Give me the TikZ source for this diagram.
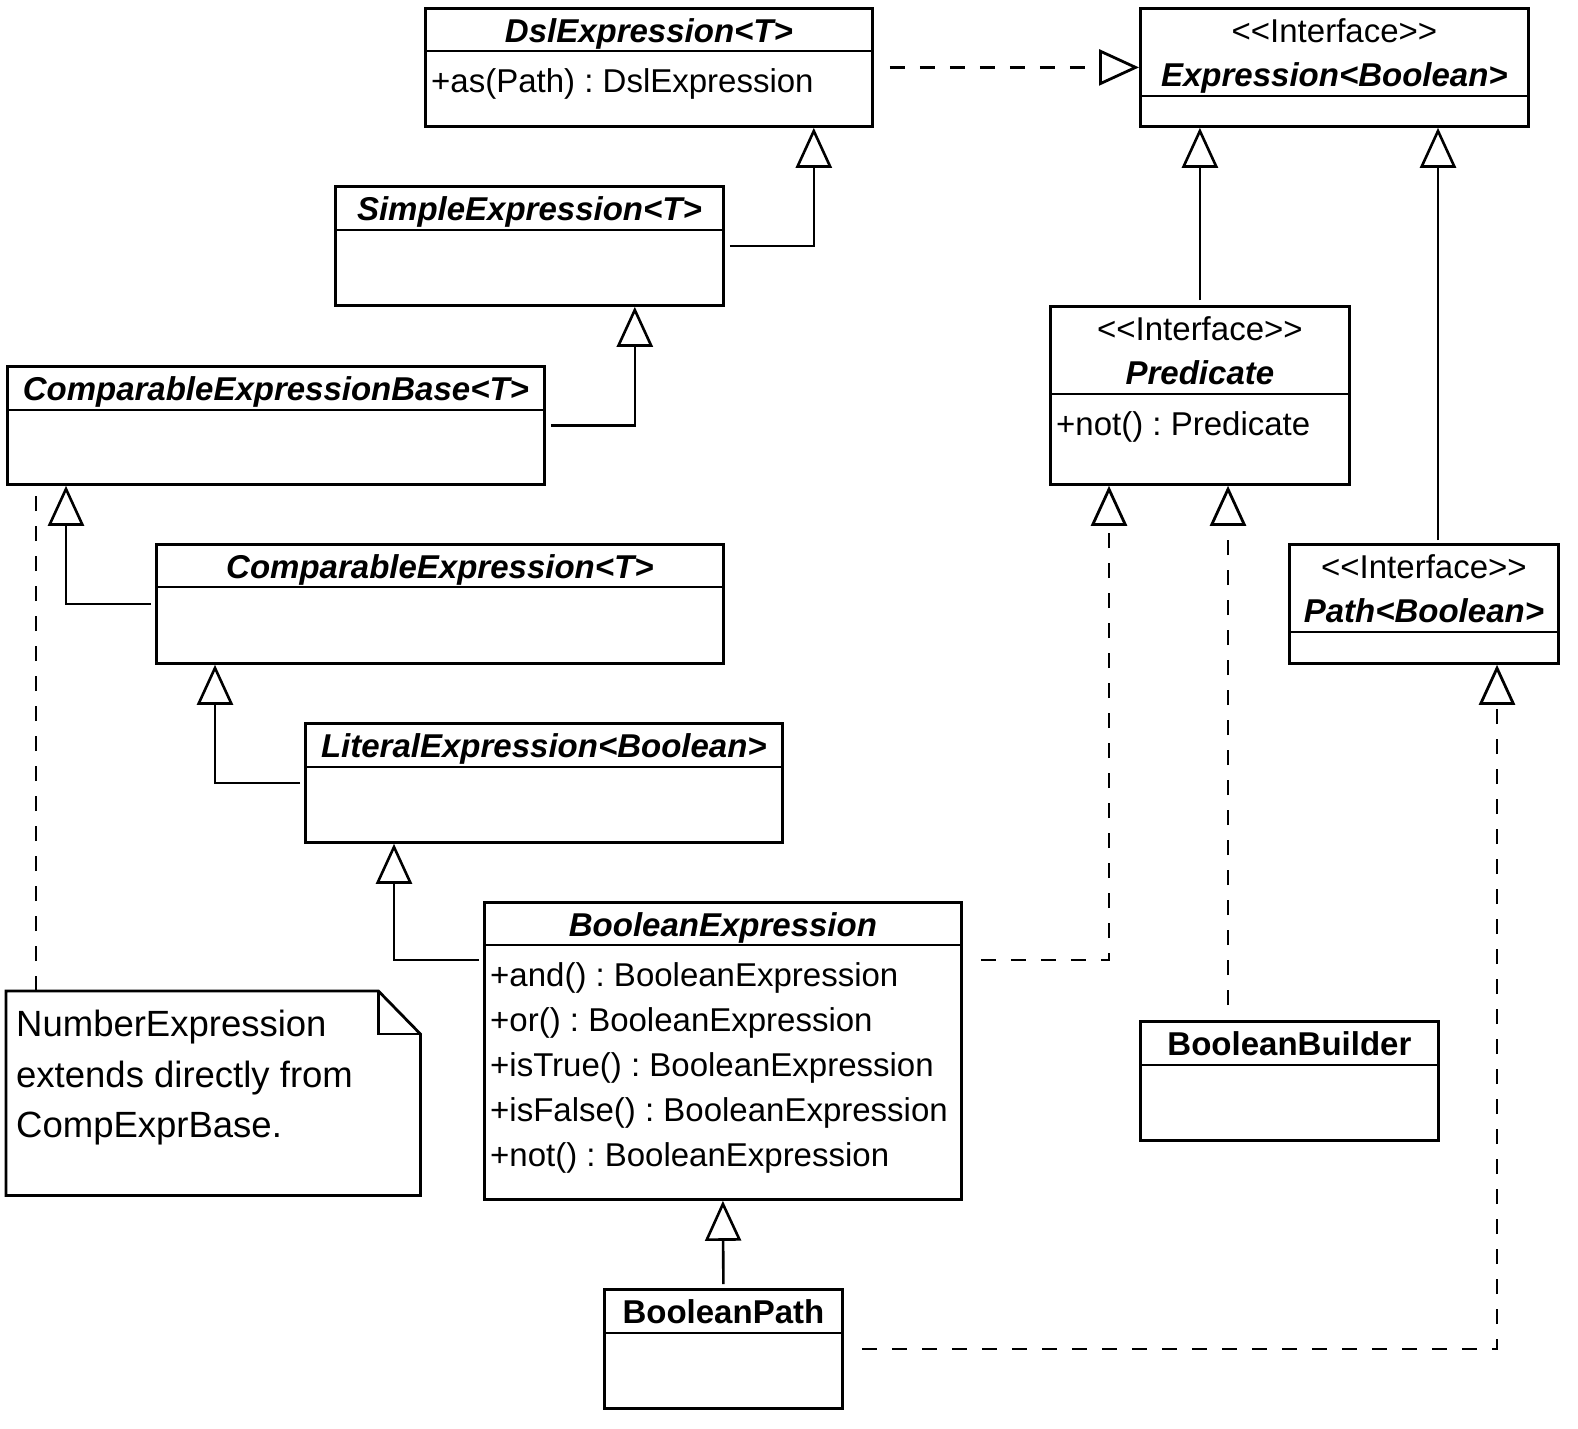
\documentclass[tikz,border=0pt]{standalone}
\usepackage{fontspec}
\setmainfont{Liberation Sans}
\usetikzlibrary{arrows.meta}
\frenchspacing
\newcommand{\umlfont}{\fontsize{33}{45}\selectfont}
\newcommand{\iface}{<\kern0pt<Interface>\kern0pt>}
\tikzset{
classbox/.style={draw, line width=2.8pt, rectangle, inner sep=0pt, anchor=north west}, % the outer frame of a class
divider/.style={line width=2.8pt},
classname/.style={anchor=base, inner sep=0pt, font=\umlfont\bfseries\itshape},
plainname/.style={anchor=base, inner sep=0pt, font=\umlfont\bfseries},
stereotype/.style={anchor=base, inner sep=0pt, font=\umlfont},
member/.style={anchor=base west, inner sep=0pt, font=\umlfont},
extends/.style={-{Triangle[open, length=40pt, width=36pt]}, line width=2.6pt}, % generalisation
realizes/.style={extends, line width=2.8pt, dash pattern=on 15pt off 15pt}, % realisation
noteline/.style={line width=2.8pt, dash pattern=on 15pt off 15pt}
}

\begin{document}
\begin{tikzpicture}[x=1pt, y=-1pt]
\useasboundingbox (0,0) rectangle (1578,1428);

% left column of classes
\node[classbox, minimum width=447pt, minimum height=118pt] (dsl) at (424,7) {};
\node[classname] at ([yshift=-35pt]dsl.north) {DslExpression<T>};
\draw[divider] ([yshift=-44pt]dsl.north west) -- ([yshift=-44pt]dsl.north east);
\node[member] at ([xshift=7pt, yshift=-85pt]dsl.north west) {+as(Path) : DslExpression};

\node[classbox, minimum width=388pt, minimum height=119pt] (simple) at (334,185) {};
\node[classname] at ([yshift=-35pt]simple.north) {SimpleExpression<T>};
\draw[divider] ([yshift=-45pt]simple.north west) -- ([yshift=-45pt]simple.north east);

\node[classbox, minimum width=537pt, minimum height=118pt] (compbase) at (6,365) {};
\node[classname] at ([yshift=-35pt]compbase.north) {ComparableExpressionBase<T>};
\draw[divider] ([yshift=-45pt]compbase.north west) -- ([yshift=-45pt]compbase.north east);

\node[classbox, minimum width=567pt, minimum height=119pt] (comp) at (155,543) {};
\node[classname] at ([yshift=-35pt]comp.north) {ComparableExpression<T>};
\draw[divider] ([yshift=-44pt]comp.north west) -- ([yshift=-44pt]comp.north east);

\node[classbox, minimum width=477pt, minimum height=119pt] (literal) at (304,722) {};
\node[classname] at ([yshift=-35pt]literal.north) {LiteralExpression<Boolean>};
\draw[divider] ([yshift=-45pt]literal.north west) -- ([yshift=-45pt]literal.north east);

\node[classbox, minimum width=477pt, minimum height=297pt] (boolexpr) at (483,901) {};
\node[classname] at ([yshift=-35pt]boolexpr.north) {BooleanExpression};
\draw[divider] ([yshift=-44pt]boolexpr.north west) -- ([yshift=-44pt]boolexpr.north east);
\node[member] at ([xshift=7pt, yshift=-85pt]boolexpr.north west) {+and() : BooleanExpression};
\node[member] at ([xshift=7pt, yshift=-130pt]boolexpr.north west) {+or() : BooleanExpression};
\node[member] at ([xshift=7pt, yshift=-175pt]boolexpr.north west) {+isTrue() : BooleanExpression};
\node[member] at ([xshift=7pt, yshift=-220pt]boolexpr.north west) {+isFalse() : BooleanExpression};
\node[member] at ([xshift=7pt, yshift=-265pt]boolexpr.north west) {+not() : BooleanExpression};

\node[classbox, minimum width=238pt, minimum height=119pt] (boolpath) at (603,1288) {};
\node[plainname] at ([yshift=-35pt]boolpath.north) {BooleanPath};
\draw[divider] ([yshift=-45pt]boolpath.north west) -- ([yshift=-45pt]boolpath.north east);

% interfaces
\node[classbox, minimum width=388pt, minimum height=118pt] (expr) at (1139,7) {};
\node[stereotype] at ([yshift=-35pt]expr.north) {\iface};
\node[classname] at ([yshift=-79pt]expr.north) {Expression<Boolean>};
\draw[divider] ([yshift=-89pt]expr.north west) -- ([yshift=-89pt]expr.north east);

\node[classbox, minimum width=299pt, minimum height=178pt] (pred) at (1049,305) {};
\node[stereotype] at ([yshift=-35pt]pred.north) {\iface};
\node[classname] at ([yshift=-79pt]pred.north) {Predicate};
\draw[divider] ([yshift=-89pt]pred.north west) -- ([yshift=-89pt]pred.north east);
\node[member] at ([xshift=7pt, yshift=-130pt]pred.north west) {+not() : Predicate};

\node[classbox, minimum width=269pt, minimum height=119pt] (path) at (1288,543) {};
\node[stereotype] at ([yshift=-35pt]path.north) {\iface};
\node[classname] at ([yshift=-79pt]path.north) {Path<Boolean>};
\draw[divider] ([yshift=-89pt]path.north west) -- ([yshift=-89pt]path.north east);

\node[classbox, minimum width=298pt, minimum height=119pt] (builder) at (1139,1020) {};
\node[plainname] at ([yshift=-35pt]builder.north) {BooleanBuilder};
\draw[divider] ([yshift=-45pt]builder.north west) -- ([yshift=-45pt]builder.north east);

% note
\node[inner sep=0pt, anchor=north west, minimum width=414pt, minimum height=204pt] (note) at (6,991) {};
\draw[divider] (note.north west) -- ([xshift=-42pt]note.north east) -- ([yshift=-43pt]note.north east)
  -- (note.south east) -- (note.south west) -- cycle;
\draw[divider] ([xshift=-42pt]note.north east) |- ([yshift=-43pt]note.north east);
\node[inner sep=0pt, anchor=north west, align=left, font=\fontsize{36.5}{50.5}\selectfont] (notetext) at (16,1010)
  {NumberExpression\\extends directly from\\CompExprBase.};

% generalisations
\draw[extends, shorten <=5pt] (simple.east) -| ([xshift=-60pt]dsl.south east);
\draw[extends, shorten <=5pt] (compbase.east) -| ([xshift=-90pt]simple.south east);
\draw[extends, shorten <=4pt] (comp.west) -| ([xshift=60pt]compbase.south west);
\draw[extends, shorten <=4pt] (literal.west) -| ([xshift=60pt]comp.south west);
\draw[extends, shorten <=4pt] ([yshift=-59pt]boolexpr.north west) -| ([xshift=90pt]literal.south west);
\draw[extends, shorten <=4pt] (boolpath.north) -- (boolexpr.south);
\draw[extends, shorten <=5pt] (pred.north) -- (pred.north |- expr.south);
\draw[extends, shorten <=3pt] ([xshift=150pt]path.north west) -- ([xshift=299pt]expr.south west);

% realisations
\draw[realizes, shorten <=16pt] (dsl.east) -- (expr.west);
\draw[realizes, shorten <=18pt] ([yshift=-59pt]boolexpr.north east) -| ([xshift=60pt]pred.south west);
\draw[realizes, shorten <=15pt] ([xshift=89pt]builder.north west) -- ([xshift=179pt]pred.south west);
\draw[realizes, shorten <=18pt] (boolpath.east) -| ([xshift=209pt]path.south west);

% note anchor
\draw[noteline] ([xshift=30pt]note.north west) -- ([xshift=30pt, yshift=-8pt]compbase.south west);
\end{tikzpicture}
\end{document}
